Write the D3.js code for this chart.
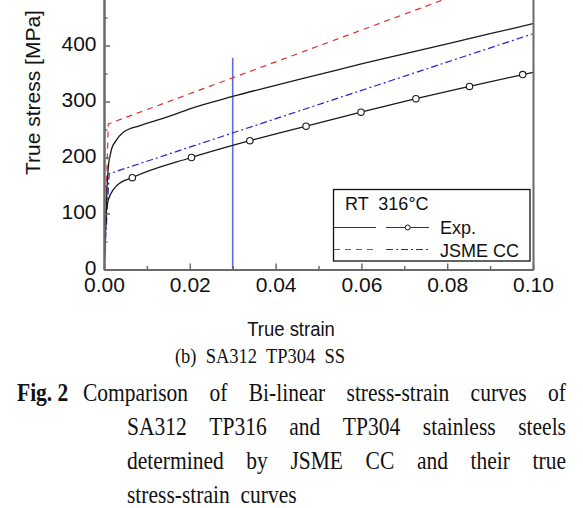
<!DOCTYPE html>
<html><head><meta charset="utf-8">
<script src="https://cdn.jsdelivr.net/npm/d3@7/dist/d3.min.js"></script>
<style>body{margin:0;background:#fff;} svg{display:block;}</style>
</head><body>
<svg id="c" width="583" height="508"></svg>
<script>
// ---- data ----
const rtExpStrain   = [0, 0.0004, 0.0008, 0.0011, 0.0014, 0.0018, 0.0026, 0.0045, 0.0084, 0.015, 0.020, 0.030, 0.040, 0.050, 0.060, 0.070, 0.080, 0.090, 0.100];
const rtExpStress   = [0, 80, 160, 190, 202, 216, 228, 245, 257, 273, 287, 309, 329, 348, 367, 385, 403, 421, 439];
const t316ExpStrain = [0, 0.0003, 0.0006, 0.0010, 0.0015, 0.0030, 0.0066, 0.0204, 0.0340, 0.0471, 0.0599, 0.0727, 0.0852, 0.0976, 0.100];
const t316ExpStress = [0, 60, 108, 124, 134, 150, 164, 200, 230, 256, 281, 305, 327, 348, 352];
const t316MarkStrain = [0.0066, 0.0204, 0.0340, 0.0471, 0.0599, 0.0727, 0.0852, 0.0976];
const t316MarkStress = [164, 200, 230, 256, 281, 305, 327, 348];
const rtJsmeStrain   = [0, 0.0010, 0.100];
const rtJsmeStress   = [0, 260, 541];
const t316JsmeStrain = [0, 0.0012, 0.100];
const t316JsmeStress = [0, 171, 421];
const refLineStrain = [0.03, 0.03];
const refLineStress = [0, 378];
const xTickValues = [0, 0.02, 0.04, 0.06, 0.08, 0.10];
const xTickLabels = ["0.00", "0.02", "0.04", "0.06", "0.08", "0.10"];
const xMinorTicks = [0.01, 0.03, 0.05, 0.07, 0.09];
const yTickValues = [0, 100, 200, 300, 400];
const yTickLabels = ["0", "100", "200", "300", "400"];
const yMinorTicks = [50, 150, 250, 350, 450];
const legendTitle = "RT  316\u00B0C";
const legendLabels = ["Exp.", "JSME CC"];
const xTitle = "True strain";
const yTitle = "True stress [MPa]";
const subCaption = "(b)  SA312  TP304  SS";
const figLabel = "Fig. 2";
const captionLines = [
  ["Comparison", "of", "Bi-linear", "stress-strain", "curves", "of"],
  ["SA312", "TP316", "and", "TP304", "stainless", "steels"],
  ["determined", "by", "JSME", "CC", "and", "their", "true"],
  ["stress-strain", "curves"]
];

// ---- layout ----
const svg = d3.select("#c");
const L = 104, R = 533, B = 269.5, T = -10.5;
const x = d3.scaleLinear().domain([0, 0.1]).range([L, R]);
const y = d3.scaleLinear().domain([0, 500]).range([B, T]);
const SANS = "'Liberation Sans', Arial, sans-serif";
const SERIF = "'Liberation Serif', 'Times New Roman', serif";
const axisCol = "#6a6a6a";
const VS = 1.13; // vertical stretch of text seen in the reference

svg.append("defs").append("clipPath").attr("id", "clip")
  .append("rect").attr("x", L).attr("y", T).attr("width", R - L).attr("height", B - T);

const plot = svg.append("g").attr("clip-path", "url(#clip)");
const line = d3.line().x(d => x(d[0])).y(d => y(d[1]));
const smooth = d3.line().x(d => x(d[0])).y(d => y(d[1])).curve(d3.curveMonotoneX);
const zip = (a, b) => a.map((v, i) => [v, b[i]]);

plot.append("path").datum(zip(refLineStrain, refLineStress)).attr("d", line)
  .attr("fill", "none").attr("stroke", "#5a6ee0").attr("stroke-width", 1.6);

plot.append("path").datum(zip(rtJsmeStrain, rtJsmeStress)).attr("d", line)
  .attr("fill", "none").attr("stroke", "#e0302a").attr("stroke-width", 1.2).attr("stroke-dasharray", "6,5");
plot.append("path").datum(zip(t316JsmeStrain, t316JsmeStress)).attr("d", line)
  .attr("fill", "none").attr("stroke", "#2424c8").attr("stroke-width", 1.2).attr("stroke-dasharray", "7,3,2,3");

plot.append("path").datum(zip(rtExpStrain, rtExpStress)).attr("d", smooth)
  .attr("fill", "none").attr("stroke", "#1a1a1a").attr("stroke-width", 1.3);
plot.append("path").datum(zip(t316ExpStrain, t316ExpStress)).attr("d", smooth)
  .attr("fill", "none").attr("stroke", "#1a1a1a").attr("stroke-width", 1.3);
plot.selectAll("circle.m").data(zip(t316MarkStrain, t316MarkStress)).enter().append("circle")
  .attr("cx", d => x(d[0])).attr("cy", d => y(d[1])).attr("r", 3.2)
  .attr("fill", "#fff").attr("stroke", "#1a1a1a").attr("stroke-width", 1.1);

// axes
const gx = svg.append("g").attr("transform", `translate(0,${B})`)
  .call(d3.axisBottom(x).tickValues(xTickValues).tickFormat((d, i) => xTickLabels[i])
    .tickSizeInner(-6).tickSizeOuter(0).tickPadding(8));
const gxm = svg.append("g").attr("transform", `translate(0,${B})`)
  .call(d3.axisBottom(x).tickValues(xMinorTicks).tickFormat("").tickSizeInner(-3.5).tickSizeOuter(0));
const gy = svg.append("g").attr("transform", `translate(${L},0)`)
  .call(d3.axisLeft(y).tickValues(yTickValues).tickFormat((d, i) => yTickLabels[i])
    .tickSizeInner(-6).tickSizeOuter(0).tickPadding(7.5));
const gym = svg.append("g").attr("transform", `translate(${L},0)`)
  .call(d3.axisLeft(y).tickValues(yMinorTicks).tickFormat("").tickSizeInner(-3.5).tickSizeOuter(0));
const gr = svg.append("g").attr("transform", `translate(${R},0)`)
  .call(d3.axisRight(y).tickValues([]).tickSizeOuter(0));

[gx, gxm, gy, gym, gr].forEach(g => {
  g.select(".domain").attr("stroke", axisCol).attr("stroke-width", 2);
  g.selectAll(".tick line").attr("stroke", axisCol).attr("stroke-width", 1.5);
  g.selectAll("text").attr("font-family", SANS).attr("font-size", 21).attr("fill", "#111");
});
gy.selectAll("text").attr("dy", "0.22em");

// axis titles
svg.append("text").attr("transform", `translate(291,336) scale(1,${VS})`).attr("text-anchor", "middle")
  .attr("font-family", SANS).attr("font-size", 18.5).attr("fill", "#111").text(xTitle);
svg.append("text").attr("transform", "translate(39.5,92.5) rotate(-90)").attr("text-anchor", "middle")
  .attr("font-family", SANS).attr("font-size", 21).attr("fill", "#111").text(yTitle);

// legend
const lg = svg.append("g");
lg.append("rect").attr("x", 333.5).attr("y", 189.5).attr("width", 196.5).attr("height", 71.5)
  .attr("fill", "#fff").attr("stroke", "#111").attr("stroke-width", 1.3);
lg.append("text").attr("x", 345).attr("y", 210).attr("font-family", SANS).attr("font-size", 18)
  .attr("fill", "#111").style("white-space", "pre").text(legendTitle);
const ly1 = 227.5, ly2 = 249.5;
lg.append("line").attr("x1", 334).attr("x2", 376).attr("y1", ly1).attr("y2", ly1).attr("stroke", "#333").attr("stroke-width", 1.2);
lg.append("line").attr("x1", 386).attr("x2", 429).attr("y1", ly1).attr("y2", ly1).attr("stroke", "#333").attr("stroke-width", 1.2);
lg.append("circle").attr("cx", 407.7).attr("cy", ly1).attr("r", 2.5).attr("fill", "#fff").attr("stroke", "#111").attr("stroke-width", 1);
lg.append("line").attr("x1", 334).attr("x2", 376).attr("y1", ly2).attr("y2", ly2).attr("stroke", "#e0302a").attr("stroke-width", 1.2).attr("stroke-dasharray", "6,5");
lg.append("line").attr("x1", 386).attr("x2", 429).attr("y1", ly2).attr("y2", ly2).attr("stroke", "#2424c8").attr("stroke-width", 1.2).attr("stroke-dasharray", "7,3,2,3");
lg.selectAll("text.lab").data(legendLabels).enter().append("text").attr("class", "lab")
  .attr("x", 440).attr("y", (d, i) => [233.5, 256.5][i]).attr("font-family", SANS).attr("font-size", 18)
  .attr("fill", "#111").text(d => d);

// captions
svg.append("text").attr("transform", `translate(260,363) scale(1,${VS})`).attr("text-anchor", "middle")
  .attr("font-family", SERIF).attr("font-size", 18.5).attr("fill", "#111")
  .style("white-space", "pre").text(subCaption);

const CAP = 21.5;
svg.append("text").attr("transform", `translate(17,401) scale(1,${VS})`).attr("font-family", SERIF).attr("font-weight", "bold")
  .attr("font-size", CAP).attr("fill", "#111").text(figLabel);

function justifyLine(words, x0, x1, yy, justify) {
  const g = svg.append("g").attr("transform", `translate(0,${yy}) scale(1,${VS})`);
  const ts = words.map(w => g.append("text").attr("y", 0).attr("font-family", SERIF)
    .attr("font-size", CAP).attr("fill", "#111").text(w));
  const widths = ts.map(t => t.node().getComputedTextLength());
  const total = d3.sum(widths);
  const gap = justify ? (x1 - x0 - total) / (words.length - 1) : CAP * 0.5;
  let cx = x0;
  ts.forEach((t, i) => { t.attr("x", cx); cx += widths[i] + gap; });
}
justifyLine(captionLines[0], 83, 566, 401, true);
justifyLine(captionLines[1], 127, 566, 435, true);
justifyLine(captionLines[2], 127, 566, 469, true);
justifyLine(captionLines[3], 127, 566, 502.5, false);
</script>
</body></html>
